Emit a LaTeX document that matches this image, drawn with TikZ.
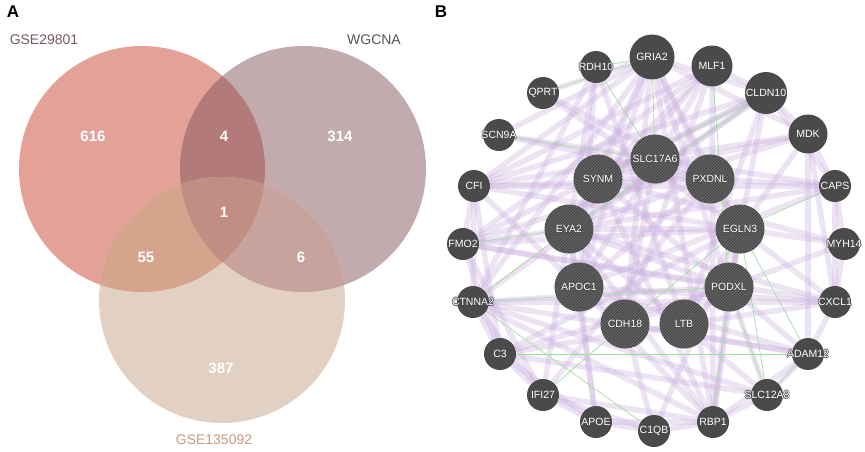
\documentclass[tikz,border=0pt]{standalone}
\usepackage{fontspec}
\setmainfont{Liberation Sans}
\usepackage{tikz}
\usetikzlibrary{patterns,backgrounds}

\definecolor{vred}{RGB}{227,161,151}
\definecolor{vpur}{RGB}{193,171,175}
\definecolor{vtan}{RGB}{226,208,194}
\definecolor{vrp}{RGB}{179,122,122}
\definecolor{vrt}{RGB}{214,163,141}
\definecolor{vpt}{RGB}{200,163,157}
\definecolor{vall}{RGB}{193,142,131}
\definecolor{genegray}{RGB}{74,74,74}
\definecolor{hatchgray}{RGB}{112,112,112}
\definecolor{lilac}{RGB}{200,172,220}
\definecolor{mint}{RGB}{160,222,160}

% gene label with a dark rim, that does not widen its circle
\newcommand{\gname}[1]{\makebox[0pt]{%
    \makebox[0pt]{\textcolor{genegray}{\kern1.4pt#1}}%
    \makebox[0pt]{\textcolor{genegray}{#1\kern1.4pt}}%
    \makebox[0pt]{\textcolor{genegray}{\raisebox{0.7pt}{#1}}}%
    \makebox[0pt]{\textcolor{genegray}{\raisebox{-0.7pt}{#1}}}%
    \makebox[0pt]{#1}}}

\begin{document}
\begin{tikzpicture}[x=1pt, y=-1pt,
    panel/.style={font=\fontsize{17}{20}\selectfont\bfseries},
    setname/.style={font=\fontsize{14}{16}\selectfont},
    count/.style={text=white, font=\fontsize{15}{18}\selectfont\bfseries},
    gene/.style={circle, fill=genegray, text=white, inner sep=0pt,
        minimum size=32pt, font=\fontsize{10.5}{12}\selectfont},
    hub/.style={gene, minimum size=49pt,
        postaction={pattern=north east lines, pattern color=hatchgray}},
    pedge/.style={draw=lilac, opacity=0.33, line width=5.5pt},
    gedge/.style={draw=mint, line width=0.7pt}]
    \useasboundingbox (0,0) rectangle (865,451);

    % Venn diagram
    \fill[vred] (142,169) circle (123pt);
    \fill[vpur] (303,169) circle (123pt);
    \fill[vtan] (222,300) circle (123pt);
    \begin{scope}
        \clip (142,169) circle (123pt);
        \fill[vrp] (303,169) circle (123pt);
        \fill[vrt] (222,300) circle (123pt);
    \end{scope}
    \begin{scope}
        \clip (303,169) circle (123pt);
        \fill[vpt] (222,300) circle (123pt);
    \end{scope}
    \begin{scope}
        \clip (142,169) circle (123pt);
        \clip (303,169) circle (123pt);
        \fill[vall] (222,300) circle (123pt);
    \end{scope}

    \node[panel] (pA) at (13,12) {A};
    \node[setname, text={rgb,255:red,120;green,88;blue,94}] (s1) at (44,40) {GSE29801};
    \node[setname, text={rgb,255:red,85;green,85;blue,85}] (s2) at (374,40) {WGCNA};
    \node[setname, text={rgb,255:red,196;green,154;blue,128}] (s3) at (214,440) {GSE135092};

    \node[count] (n1) at (93,136) {616};
    \node[count] (n2) at (224,136) {4};
    \node[count] (n3) at (340,136) {314};
    \node[count] (n4) at (224,212) {1};
    \node[count] (n5) at (146,257) {55};
    \node[count] (n6) at (301,257) {6};
    \node[count] (n7) at (221,368) {387};

    % Network
    \node[panel] (pB) at (441,12) {B};

    \node[gene, minimum size=45pt] (GRIA2) at (652,57) {\gname{GRIA2}};
    \node[gene] (RDH10) at (596,67) {\gname{RDH10}};
    \node[gene, minimum size=41pt] (MLF1) at (712,66) {\gname{MLF1}};
    \node[gene] (QPRT) at (543,93) {\gname{QPRT}};
    \node[gene, minimum size=42pt] (CLDN10) at (766,93) {\gname{CLDN10}};
    \node[gene] (SCN9A) at (499,135) {\gname{SCN9A}};
    \node[gene, minimum size=39pt] (MDK) at (808,134) {\gname{MDK}};
    \node[gene] (CFI) at (474,186) {\gname{CFI}};
    \node[gene] (CAPS) at (835,186) {\gname{CAPS}};
    \node[gene] (FMO2) at (463,244) {\gname{FMO2}};
    \node[gene] (MYH14) at (844,244) {\gname{MYH14}};
    \node[gene] (CTNNA2) at (473,302) {\gname{CTNNA2}};
    \node[gene] (CXCL1) at (835,302) {\gname{CXCL1}};
    \node[gene] (C3) at (500,354) {\gname{C3}};
    \node[gene] (ADAM12) at (808,354) {\gname{ADAM12}};
    \node[gene] (IFI27) at (543,395) {\gname{IFI27}};
    \node[gene] (SLC12A8) at (767,395) {\gname{SLC12A8}};
    \node[gene] (APOE) at (596,422) {\gname{APOE}};
    \node[gene] (C1QB) at (654,431) {\gname{C1QB}};
    \node[gene] (RBP1) at (713,422) {\gname{RBP1}};

    \node[hub] (SLC17A6) at (655,159) {\gname{SLC17A6}};
    \node[hub] (SYNM) at (598,179) {\gname{SYNM}};
    \node[hub] (PXDNL) at (710,179) {\gname{PXDNL}};
    \node[hub] (EYA2) at (569,229) {\gname{EYA2}};
    \node[hub] (EGLN3) at (740,229) {\gname{EGLN3}};
    \node[hub] (APOC1) at (579,287) {\gname{APOC1}};
    \node[hub] (PODXL) at (729,287) {\gname{PODXL}};
    \node[hub] (CDH18) at (625,324) {\gname{CDH18}};
    \node[hub] (LTB) at (684,324) {\gname{LTB}};

    \begin{scope}[on background layer]
        \foreach \a/\b in {GRIA2/SYNM, GRIA2/EYA2, GRIA2/CFI, GRIA2/SCN9A, GRIA2/QPRT,
            GRIA2/APOC1, GRIA2/CDH18, GRIA2/PXDNL, GRIA2/EGLN3, GRIA2/PODXL,
            GRIA2/CLDN10, GRIA2/MDK, GRIA2/CTNNA2, GRIA2/RBP1,
            MLF1/SYNM, MLF1/EYA2, MLF1/CFI, MLF1/CLDN10, MLF1/APOC1, MLF1/CDH18,
            MLF1/FMO2, MLF1/RBP1,
            CLDN10/CFI, CLDN10/SYNM, CLDN10/EYA2, CLDN10/FMO2, CLDN10/MDK,
            CLDN10/CAPS, CLDN10/PODXL, CLDN10/LTB, CLDN10/CTNNA2,
            MDK/CFI, MDK/SYNM, MDK/CAPS, MDK/EGLN3, MDK/CXCL1, MDK/ADAM12, MDK/FMO2,
            CAPS/CFI, CAPS/MYH14, CAPS/PXDNL, CAPS/EYA2, CAPS/APOC1, CAPS/CXCL1,
            RDH10/EYA2, RDH10/APOC1, RDH10/CTNNA2, RDH10/LTB,
            QPRT/PXDNL, QPRT/EGLN3, SCN9A/PXDNL, SCN9A/CAPS,
            CFI/PXDNL, CFI/EGLN3, CFI/FMO2, CFI/CTNNA2, CFI/C3, CFI/APOC1,
            FMO2/EYA2, FMO2/EGLN3, FMO2/PODXL, FMO2/CXCL1, FMO2/C3, FMO2/IFI27,
            CTNNA2/PODXL, CTNNA2/CXCL1, CTNNA2/C3, CTNNA2/IFI27, CTNNA2/ADAM12,
            CTNNA2/SLC12A8, CTNNA2/RBP1,
            C3/IFI27, C3/APOE, C3/LTB, C3/PODXL, C3/EGLN3, C3/SLC12A8,
            IFI27/APOE, IFI27/RBP1, IFI27/EYA2, IFI27/PXDNL, IFI27/C1QB,
            APOE/C1QB, APOE/RBP1, APOE/EYA2, APOE/APOC1,
            C1QB/RBP1, C1QB/CDH18, C1QB/EGLN3,
            RBP1/SLC12A8, RBP1/ADAM12, RBP1/PODXL, RBP1/EYA2, RBP1/EGLN3,
            RBP1/APOC1, RBP1/SYNM,
            SLC12A8/ADAM12, SLC12A8/PODXL, SLC12A8/EYA2,
            ADAM12/CXCL1, ADAM12/PODXL, ADAM12/CDH18, ADAM12/APOC1,
            CXCL1/MYH14, CXCL1/EGLN3, CXCL1/LTB, CXCL1/APOC1, CXCL1/EYA2,
            MYH14/EGLN3, MYH14/PODXL, MYH14/SYNM,
            EYA2/SYNM, EYA2/PXDNL, EYA2/EGLN3, EYA2/APOC1, EYA2/PODXL,
            SYNM/SLC17A6, SYNM/PXDNL, SYNM/APOC1, SYNM/PODXL,
            SLC17A6/PXDNL, SLC17A6/CDH18, PXDNL/EGLN3, PXDNL/APOC1,
            EGLN3/PODXL, EGLN3/LTB, PODXL/LTB, PODXL/CDH18, APOC1/CDH18}
            \draw[pedge] (\a) -- (\b);
        \foreach \a/\b in {GRIA2/RDH10, QPRT/GRIA2, GRIA2/SLC17A6, RDH10/SLC17A6,
            SCN9A/SLC17A6, MLF1/PODXL, CLDN10/EYA2, CLDN10/SYNM, CAPS/EGLN3,
            CTNNA2/PODXL, CTNNA2/EYA2, FMO2/EYA2, C3/ADAM12, IFI27/CDH18,
            CDH18/EGLN3, EGLN3/ADAM12, EGLN3/SLC12A8, PODXL/SLC12A8,
            ADAM12/SLC12A8, CTNNA2/C1QB, RBP1/PODXL}
            \draw[gedge] (\a) -- (\b);
    \end{scope}
\end{tikzpicture}
\end{document}
